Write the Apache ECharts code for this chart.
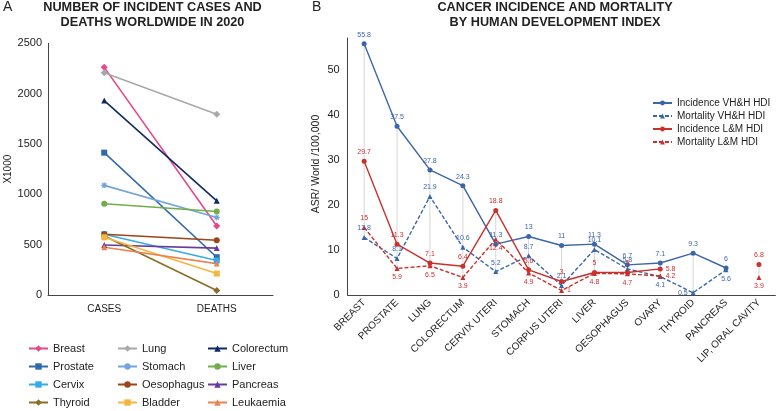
<!DOCTYPE html>
<html>
<head>
<meta charset="utf-8">
<script src="https://cdn.jsdelivr.net/npm/echarts@6/dist/echarts.min.js"></script>
<style>html,body{margin:0;padding:0;background:#fff}#c{width:777px;height:411px}</style>
</head>
<body>
<div id="c"></div>
<script>
// ---------- Panel A data (x1000) ----------
const cancersA = ['Breast','Lung','Colorectum','Prostate','Stomach','Liver','Cervix','Oesophagus','Pancreas','Thyroid','Bladder','Leukaemia'];
const casesA  = [2261, 2207, 1931, 1414, 1089, 906, 604, 604, 496, 586, 573, 475];
const deathsA = [685, 1796, 935, 375, 769, 830, 342, 544, 466, 44, 213, 312];
const axisA = ['CASES', 'DEATHS'];

// ---------- Panel B data (ASR / 100,000) ----------
const sitesB = ['BREAST','PROSTATE','LUNG','COLORECTUM','CERVIX UTERI','STOMACH','CORPUS UTERI','LIVER','OESOPHAGUS','OVARY','THYROID','PANCREAS','LIP, ORAL CAVITY'];
const incVHH = [55.8, 37.5, 27.8, 24.3, 11.3, 13, 11, 11.3, 6.7, 7.1, 9.3, 6, null];
const morVHH = [12.8, 8.1, 21.9, 10.6, 5.2, 8.7, 2.1, 10.1, 5.8, 4.1, 0.5, 5.6, null];
const incLM  = [29.7, 11.3, 7.1, 6.4, 18.8, 5.6, 3, 5, 5, 5.8, null, null, 6.8];
const morLM  = [15, 5.9, 6.5, 3.9, 12.4, 4.9, 1, 4.8, 4.7, 4.2, null, null, 3.9];

// ---------- styles ----------
const FONT = 'Liberation Sans, Arial, Helvetica, sans-serif';
const colorsA = ['#e8468c','#a8a8a8','#0f2b5f','#2f6aa9','#73a4dc','#72ad4a','#35ade4','#9a451c','#6a3b9c','#8a6e25','#f4b63f','#ea8450'];
const asterisk = 'path://M5,0L5,10M0,5L10,5M1.5,1.5L8.5,8.5M8.5,1.5L1.5,8.5';
const symbolsA = ['diamond','diamond','triangle','rect','asterisk','circle','rect','circle','triangle','diamond','rect','triangle'];
const BLUE = '#3b66a8', RED = '#c8312e';

const labelPos = {
  morVHH: {9:'bottom', 10:'left', 11:'bottom'},
  incLM: {9:'right'},
  morLM: {0:'top', 6:'right', 9:'right'}
};

function mk(arr, key){
  const p = labelPos[key] || {};
  return arr.map((v,i) => {
    if (v == null) return '-';
    return p[i] ? {value: v, label: {position: p[i]}} : v;
  });
}

const seriesA = cancersA.map((name, i) => {
  const isAst = symbolsA[i] === 'asterisk';
  return {
    name, type: 'line', xAxisIndex: 0, yAxisIndex: 0,
    data: [casesA[i], deathsA[i]],
    symbol: isAst ? asterisk : symbolsA[i],
    symbolSize: symbolsA[i] === 'diamond' ? 7 : 6,
    lineStyle: {color: colorsA[i], width: 1.6},
    itemStyle: isAst ? {color: 'rgba(0,0,0,0)', borderColor: colorsA[i], borderWidth: 1.2}
                     : {color: colorsA[i], borderWidth: 0},
    emphasis: {disabled: true}
  };
});

const hl = sitesB.map((s, i) => {
  const vals = [incVHH[i], morVHH[i], incLM[i], morLM[i]].filter(v => v != null);
  return [i, Math.max(...vals), Math.min(...vals)];
});

function bSeries(name, arr, key, color, dashed, sym){
  return {
    name, type: 'line', xAxisIndex: 1, yAxisIndex: 1,
    data: mk(arr, key),
    symbol: sym, symbolSize: 5,
    connectNulls: false,
    lineStyle: {color, width: 1.4, type: dashed ? [4, 2] : 'solid'},
    itemStyle: {color},
    label: {show: true, position: dashed && color === RED ? 'bottom' : 'top', distance: 3,
            color, fontSize: 7, fontFamily: FONT},
    emphasis: {disabled: true}, z: 3
  };
}

const seriesB = [
  {type: 'custom', xAxisIndex: 1, yAxisIndex: 1, data: hl, z: 1, silent: true,
   renderItem: (params, api) => {
     const a = api.coord([api.value(0), api.value(1)]);
     const b = api.coord([api.value(0), api.value(2)]);
     return {type: 'line', shape: {x1: a[0], y1: a[1], x2: b[0], y2: b[1]},
             style: {stroke: '#d6d6d6', lineWidth: 1}};
   }},
  bSeries('Incidence VH&H HDI', incVHH, 'incVHH', BLUE, false, 'circle'),
  bSeries('Mortality VH&H HDI', morVHH, 'morVHH', BLUE, true, 'triangle'),
  bSeries('Incidence L&M HDI', incLM, 'incLM', RED, false, 'circle'),
  bSeries('Mortality L&M HDI', morLM, 'morLM', RED, true, 'triangle')
];

const colA = [[0,3,6,9],[1,4,7,10],[2,5,8,11]];
const lefts = [28, 117, 207];
const legendsA = colA.map((idx, k) => ({
  orient: 'vertical', left: lefts[k], top: 342,
  data: idx.map(i => cancersA[i]),
  itemWidth: 19, itemHeight: 8, itemGap: 5, padding: 0,
  textStyle: {fontSize: 11, color: '#222', fontFamily: FONT, lineHeight: 13},
  selectedMode: false
}));

const option = {
  animation: false,
  textStyle: {fontFamily: FONT},
  graphic: [
    {type: 'text', left: 3, top: 0, style: {text: 'A', font: '14px ' + FONT, fill: '#222'}},
    {type: 'text', left: 312, top: 0, style: {text: 'B', font: '14px ' + FONT, fill: '#222'}},
    {type: 'text', x: 152.5, y: 7, style: {text: 'NUMBER OF INCIDENT CASES AND', font: 'bold 12.7px ' + FONT, fill: '#222', align: 'center', verticalAlign: 'middle'}},
    {type: 'text', x: 152.5, y: 22.5, style: {text: 'DEATHS WORLDWIDE IN 2020', font: 'bold 12.7px ' + FONT, fill: '#222', align: 'center', verticalAlign: 'middle'}},
    {type: 'text', x: 555, y: 7, style: {text: 'CANCER INCIDENCE AND MORTALITY', font: 'bold 12.7px ' + FONT, fill: '#222', align: 'center', verticalAlign: 'middle'}},
    {type: 'text', x: 555, y: 22.5, style: {text: 'BY HUMAN DEVELOPMENT INDEX', font: 'bold 12.7px ' + FONT, fill: '#222', align: 'center', verticalAlign: 'middle'}},
    {type: 'text', x: 316, y: 164, rotation: Math.PI / 2,
     style: {text: 'ASR/ World /100,000', font: '10.5px ' + FONT, fill: '#222', align: 'center', verticalAlign: 'middle'}}
  ],
  grid: [
    {left: 48, top: 43.3, width: 225, height: 251.7, containLabel: false, outerBoundsMode: 'none'},
    {left: 347.7, top: 38, width: 427.7, height: 257, containLabel: false, outerBoundsMode: 'none'}
  ],
  xAxis: [
    {type: 'category', gridIndex: 0, data: axisA, boundaryGap: true,
     axisLine: {lineStyle: {color: '#444', width: 1}}, axisTick: {show: false},
     axisLabel: {fontSize: 10, color: '#222', margin: 9}},
    {type: 'category', gridIndex: 1, data: sitesB, boundaryGap: true,
     axisLine: {lineStyle: {color: '#444', width: 1}}, axisTick: {show: false},
     axisLabel: {fontSize: 10, color: '#222', rotate: 45, margin: 6, interval: 0}}
  ],
  yAxis: [
    {type: 'value', gridIndex: 0, min: 0, max: 2500, interval: 500,
     name: 'X1000', nameLocation: 'middle', nameGap: 30, nameRotate: 90,
     nameTextStyle: {fontSize: 10, color: '#222'},
     axisLine: {show: true, lineStyle: {color: '#444', width: 1}}, axisTick: {show: false},
     splitLine: {show: false},
     axisLabel: {fontSize: 11, color: '#222', margin: 6, formatter: v => String(v)}},
    {type: 'value', gridIndex: 1, min: 0, max: 57.1, interval: 10,
     axisLine: {show: true, lineStyle: {color: '#444', width: 1}}, axisTick: {show: false},
     splitLine: {show: false},
     axisLabel: {fontSize: 11, color: '#222', margin: 8, showMaxLabel: false, formatter: v => String(v)}}
  ],
  legend: legendsA.concat([{
    orient: 'vertical', left: 652, top: 97, padding: 0,
    data: ['Incidence VH&H HDI','Mortality VH&H HDI','Incidence L&M HDI','Mortality L&M HDI'],
    itemWidth: 19, itemHeight: 6, itemGap: 1,
    textStyle: {fontSize: 10, color: '#222', fontFamily: FONT, lineHeight: 12},
    selectedMode: false
  }]),
  series: seriesA.concat(seriesB)
};

const chart = echarts.init(document.getElementById('c'), null, {renderer: 'canvas'});
chart.setOption(option);
</script>
</body>
</html>
